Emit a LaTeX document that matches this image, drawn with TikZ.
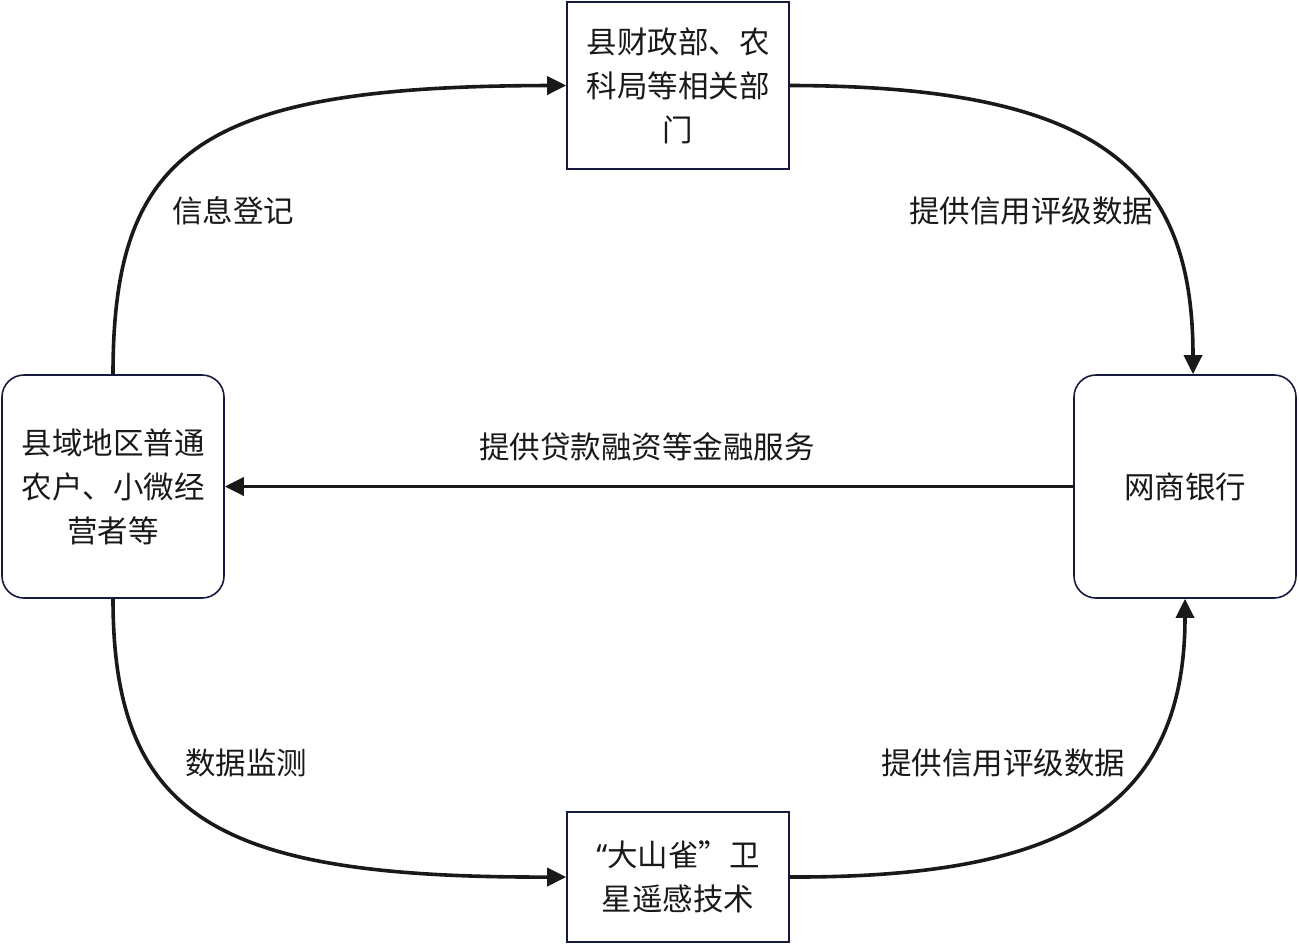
\documentclass[tikz,border=0pt]{standalone}
\usepackage{fontspec}
\setmainfont{Noto Sans CJK SC}
\newfontfamily\latinq{Noto Sans}
\usetikzlibrary{arrows.meta}
\definecolor{boxline}{RGB}{22,26,62}
\definecolor{txt}{RGB}{25,25,25}
\begin{document}
\begin{tikzpicture}[x=1pt,y=-1pt,
  box/.style={draw=boxline,line width=1.6pt,minimum width=222pt,align=center,
    font=\fontsize{30.5}{44}\selectfont,text=txt,inner sep=0pt},
  rbox/.style={box,rounded corners=22pt},
  conn/.style={line width=3.6pt,draw=black!90,-{Triangle[length=19pt,width=18pt]}},
  lab/.style={font=\fontsize{30.5}{36}\selectfont,text=txt,inner sep=0pt}]
\useasboundingbox (0,0) rectangle (1299,945);
\node[box,minimum height=167pt] (fin) at (678,85.5) {\raisebox{-3pt}{县财政部、农}\\\raisebox{-3pt}{科局等相关部}\\\raisebox{-3pt}{门}};
\node[rbox,minimum height=223pt] (farm) at (113,486.5) {\raisebox{-3pt}{县域地区普通}\\\raisebox{-3pt}{农户、小微经}\\\raisebox{-3pt}{营者等}};
\node[rbox,minimum height=223pt] (bank) at (1185,486.5) {\raisebox{-3pt}{网商银行}};
\node[box,minimum height=130pt] (sat) at (678,877) {{\latinq “}大山雀”卫\\星遥感技术};
\draw[conn] (farm.north) .. controls (113,150) and (200,86) .. (fin.west);
\draw[conn] (fin.east) .. controls (1100,86) and (1193,170) .. ([xshift=8pt]bank.north);
\draw[conn] (bank.west) -- (farm.east);
\draw[conn] (farm.south) .. controls (113,820) and (220,878) .. (sat.west);
\draw[conn] (sat.east) .. controls (1060,878) and (1185,810) .. (bank.south);
\node[lab] (l1) at (233,211) {信息登记};
\node[lab] (l2) at (1031,211) {提供信用评级数据};
\node[lab] (l3) at (647,447) {提供贷款融资等金融服务};
\node[lab] (l4) at (246,763) {数据监测};
\node[lab] (l5) at (1003,763) {提供信用评级数据};
\end{tikzpicture}
\end{document}
